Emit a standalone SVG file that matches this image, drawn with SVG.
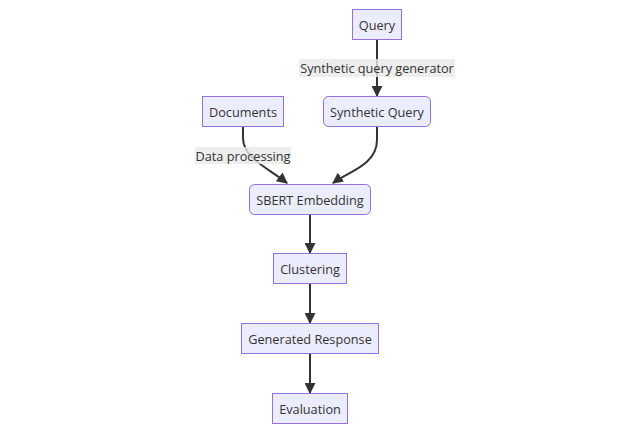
<svg xmlns="http://www.w3.org/2000/svg" width="639" height="427" viewBox="0 0 639 427">
<style>
.n rect{fill:#ECECFF;stroke:#9370DB;stroke-width:1}
text{font-family:"Open Sans","Noto Sans","DejaVu Sans",sans-serif;font-size:12.7px;fill:#333;text-anchor:middle;dominant-baseline:central}
.e{fill:none;stroke:#333;stroke-width:2;marker-end:url(#ah)}
.lb{fill:#e8e8e8;opacity:0.8}
</style>
<defs>
<marker id="ah" viewBox="0 0 10 10" refX="9" refY="5" markerWidth="5.5" markerHeight="5.5" markerUnits="strokeWidth" orient="auto">
<path d="M0,0 L10,5 L0,10 z" fill="#333"/>
</marker>
</defs>
<rect width="639" height="427" fill="#fff"/>
<g id="edges">
<path class="e" d="M377,39 V96"/>
<path class="e" d="M243,127 V138 C243,158 268,168 287,183"/>
<path class="e" d="M377,127 V140 C377,165 348,172 333,183"/>
<path class="e" d="M310,214 V253"/>
<path class="e" d="M310,284 V323"/>
<path class="e" d="M310,354 V393"/>
<rect class="lb" x="299" y="59" width="156" height="18"/>
<text x="377" y="68">Synthetic query generator</text>
<rect class="lb" x="195" y="147" width="96" height="17"/>
<text x="243" y="155.5">Data processing</text>
</g>
<g id="query" class="n"><rect x="352.5" y="9.5" width="49" height="30"/><text x="377" y="24.5">Query</text></g>
<g id="documents" class="n"><rect x="202.5" y="96.5" width="81" height="30"/><text x="243" y="111.5">Documents</text></g>
<g id="synthetic-query" class="n"><rect x="323.5" y="96.5" width="107" height="30" rx="5"/><text x="377" y="111.5">Synthetic Query</text></g>
<g id="sbert" class="n"><rect x="249.5" y="184.5" width="121" height="30" rx="5"/><text x="310" y="199.5">SBERT Embedding</text></g>
<g id="clustering" class="n"><rect x="273.5" y="253.5" width="73" height="30"/><text x="310" y="268.5">Clustering</text></g>
<g id="generated-response" class="n"><rect x="241.5" y="323.5" width="137" height="30"/><text x="310" y="338.5">Generated Response</text></g>
<g id="evaluation" class="n"><rect x="272.5" y="393.5" width="75" height="30"/><text x="310" y="408.5">Evaluation</text></g>
</svg>
